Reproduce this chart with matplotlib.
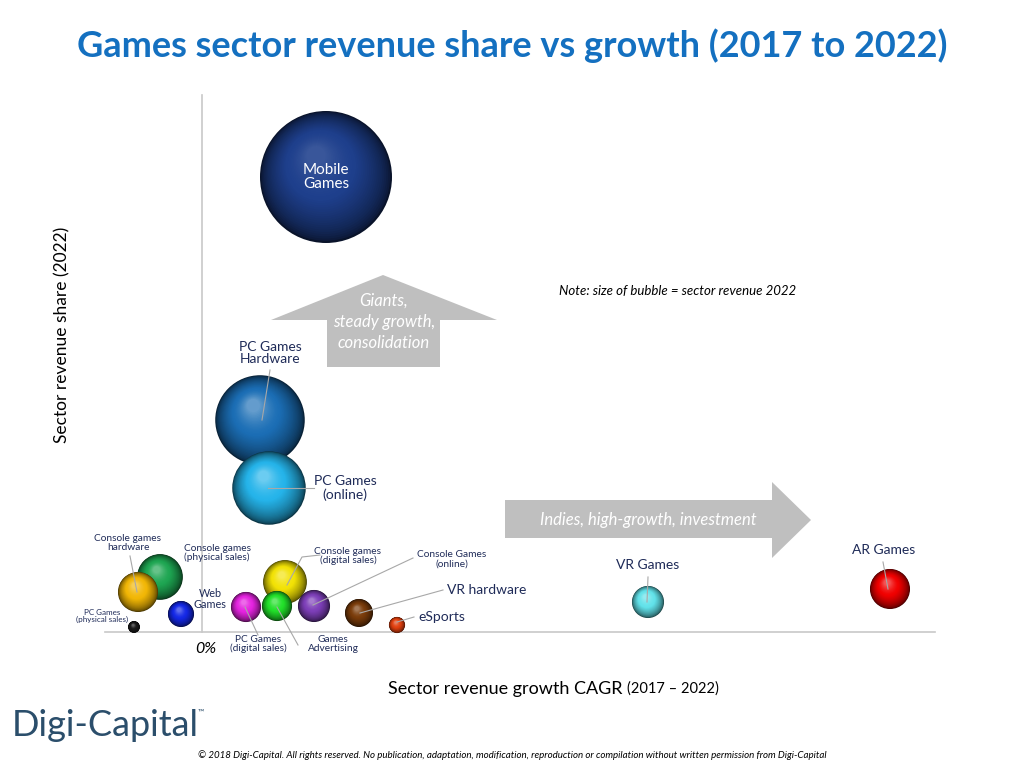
import numpy as np
import matplotlib.pyplot as plt
from matplotlib.patches import Circle, Polygon
from matplotlib.colors import to_rgb

# sector data (arbitrary units)
sectors = ['Mobile Games', 'PC Games Hardware', 'PC Games (online)',
           'Console games (physical sales)', 'Console games hardware',
           'PC Games (physical sales)', 'Web Games', 'Console games (digital sales)',
           'PC Games (digital sales)', 'Games Advertising', 'Console Games (online)',
           'VR hardware', 'eSports', 'VR Games', 'AR Games']
growth = [12.4, 5.8, 6.7, -4.2, -6.4, -6.8, -2.1, 8.3, 4.4, 7.5, 11.2, 15.7, 19.5, 44.6, 68.8]
share = [45.5, 21.2, 14.4, 5.5, 4.0, 0.5, 1.8, 5.0, 2.5, 2.6, 2.6, 1.9, 0.7, 3.0, 4.3]
revenue = [100, 46, 31, 12, 9.2, 0.8, 3.9, 11, 5.2, 5.2, 5.9, 4.5, 1.5, 5.9, 9.2]
colors = ['#1e3f8c', '#1b6eb5', '#25b4ea', '#1ea652', '#f2b705', '#1a1a1a', '#1428e6',
          '#f2e205', '#e524e0', '#22e02a', '#7d3fb8', '#7a3c0a', '#e0400f', '#62e2ea', '#f00000']

W, H = 1024, 768
X0, Y0 = 202, 632   # pixel position of the origin
S = 10.0            # pixels per unit


def P(px, py):
    return (px - X0) / S, (Y0 - py) / S


def sphere(ax, x, y, r, color, z, n=36, shine=0.3):
    base = np.array(to_rgb(color))
    dark = base * 0.3
    light = base + (1 - base) * shine
    for k in range(n):
        t = k / (n - 1)
        rr = r * (1 - 0.85 * t)
        cx = x - 0.15 * r * t
        cy = y + 0.32 * r * t
        if t < 0.55:
            c = dark + (base - dark) * (t / 0.55) ** 0.6
        else:
            c = base + (light - base) * ((t - 0.55) / 0.45) ** 1.5
        ax.add_patch(Circle((cx, cy), rr, fc=np.clip(c, 0, 1), ec='none', zorder=z))


navy = '#1f2b58'
lab = 'Lato'

fig = plt.figure(figsize=(10.24, 7.68), dpi=100)
ax = fig.add_axes([0, 0, 1, 1])
ax.set_xlim(-X0 / S, (W - X0) / S)
ax.set_ylim((Y0 - H) / S, Y0 / S)
ax.set_aspect('equal')
ax.axis('off')

# axes lines
ax.plot([P(105, 0)[0], P(935, 0)[0]], [0, 0], color='#c8c8c8', lw=1.2, zorder=1)
ax.plot([0, 0], [0, P(0, 95)[1]], color='#c8c8c8', lw=1.2, zorder=1)

# arrows
up = [P(327, 367), P(327, 320), P(271, 320), P(383, 275), P(497, 320), P(440, 320), P(440, 367)]
ax.add_patch(Polygon(up, closed=True, fc='#bfbfbf', ec='none', zorder=2))
right = [P(505, 538), P(505, 500), P(772, 500), P(772, 482), P(811, 520), P(772, 558), P(772, 538)]
ax.add_patch(Polygon(right, closed=True, fc='#bfbfbf', ec='none', zorder=2))
ax.text(*P(384, 322), 'Giants,\nsteady growth,\nconsolidation', color='white', fontsize=12,
        style='italic', family=lab, ha='center', va='center', linespacing=1.4, zorder=4)
ax.text(*P(648, 520), 'Indies, high-growth, investment', color='white', fontsize=12,
        style='italic', family=lab, ha='center', va='center', zorder=4)

# bubbles
for i in range(len(sectors)):
    r = 0.66 * np.sqrt(revenue[i])
    sphere(ax, growth[i], share[i], r, colors[i], 5 + i,
           shine=0.12 if sectors[i] == 'Mobile Games' else 0.32)

# labels: text position (px), font size, leader line (px) or None
labels = {
    'Mobile Games': ((326, 177), 11, None),
    'PC Games Hardware': ((270, 353), 10, [(270, 370), (262, 420)]),
    'PC Games (online)': ((345, 488), 10, [(314, 488), (268, 488)]),
    'Console games (physical sales)': ((217, 553), 7.3, None),
    'Console games hardware': ((128, 543), 7.3, [(130, 556), (137, 592)]),
    'PC Games (physical sales)': ((102, 616), 5.8, None),
    'Web Games': ((210, 599), 7.8, None),
    'Console games (digital sales)': ((348, 556), 7.3, [(320, 555), (302, 557), (287, 585)]),
    'PC Games (digital sales)': ((258, 644), 7.3, [(258, 635), (245, 607)]),
    'Games Advertising': ((333, 644), 7.3, [(298, 645), (277, 607)]),
    'Console Games (online)': ((452, 559), 7.3, [(413, 558), (313, 605)]),
    'VR hardware': ((447, 590), 10, [(443, 590), (360, 613)]),
    'eSports': ((418, 617), 10, [(414, 617), (397, 622)]),
    'VR Games': ((648, 565), 10, [(648, 577), (647, 602)]),
    'AR Games': ((884, 550), 10, [(883, 562), (888, 589)]),
}
texts = {
    'Mobile Games': 'Mobile\nGames',
    'PC Games Hardware': 'PC Games\nHardware',
    'PC Games (online)': 'PC Games\n(online)',
    'Console games (physical sales)': 'Console games\n(physical sales)',
    'Console games hardware': 'Console games\nhardware',
    'PC Games (physical sales)': 'PC Games\n(physical sales)',
    'Web Games': 'Web\nGames',
    'Console games (digital sales)': 'Console games\n(digital sales)',
    'PC Games (digital sales)': 'PC Games\n(digital sales)',
    'Games Advertising': 'Games\nAdvertising',
    'Console Games (online)': 'Console Games\n(online)',
}
for name in sectors:
    (px, py), fs, line = labels[name]
    ha = 'left' if name in ('VR hardware', 'eSports') else 'center'
    col = 'white' if name == 'Mobile Games' else navy
    ax.text(*P(px, py), texts.get(name, name), fontsize=fs, family=lab, color=col,
            ha=ha, va='center', linespacing=1.05, zorder=30)
    if line:
        xs, ys = zip(*[P(a, b) for a, b in line])
        ax.plot(xs, ys, color='#a8a8a8', lw=0.8, zorder=25)

ax.text(*P(206, 649), '0%', fontsize=11.5, style='italic', family=lab, color='black',
        ha='center', va='center')
ax.text(*P(678, 291), 'Note: size of bubble = sector revenue 2022', fontsize=9.5,
        style='italic', family=lab, color='black', ha='center', va='center')

# titles
fig.text(0.5, 1 - 46 / H, 'Games sector revenue share vs growth (2017 to 2022)',
         fontsize=26, weight='bold', family=lab, color='#1470c0', ha='center', va='center')
fig.text(62 / W, 1 - 335 / H, 'Sector revenue share (2022)', rotation=90, fontsize=12.5,
         family=lab, color='black', ha='center', va='center')
fig.text(627 / W, 1 - 689 / H, 'Sector revenue growth CAGR ', fontsize=13, family=lab,
         color='black', ha='right', va='center')
fig.text(627 / W, 1 - 689 / H, '(2017 – 2022)', fontsize=10.5, family=lab,
         color='black', ha='left', va='center')
fig.text(12 / W, 1 - 726 / H, 'Digi-Capital', fontsize=26, family=lab, color='#2b4e6b',
         ha='left', va='center')
fig.text(198 / W, 1 - 712 / H, '™', fontsize=6, family=lab, color='#2b4e6b',
         ha='left', va='center')
fig.text(0.5, 1 - 755 / H, '© 2018 Digi-Capital. All rights reserved. No publication, adaptation, '
         'modification, reproduction or compilation without written permission from Digi-Capital',
         fontsize=7, style='italic', family=lab, color='black', ha='center', va='center')

fig.savefig('out.png', dpi=100)
